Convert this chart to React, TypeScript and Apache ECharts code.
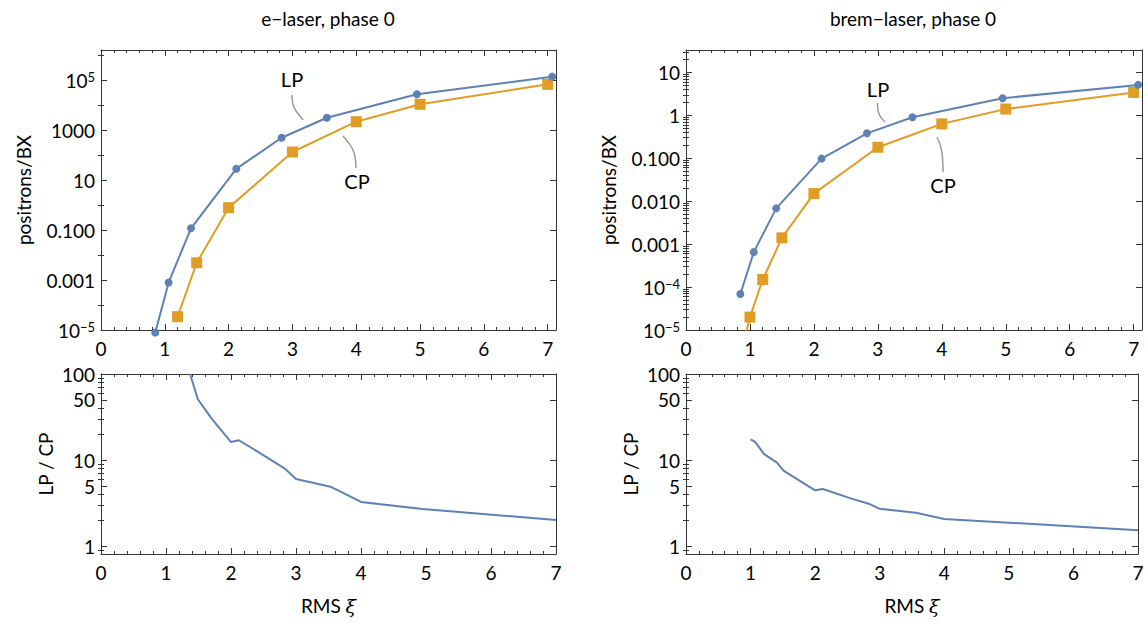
import React, { useEffect, useRef } from "react";
import * as echarts from "echarts";

// ---------- data ----------
const lpX = [0.85, 1.06, 1.41, 2.12, 2.83, 3.54, 4.95, 7.07];
const eLaserLP = [8e-6, 8e-4, 0.117, 28, 490, 3100, 27000, 136000];
const eLaserCPx = [1.2, 1.5, 2, 3, 4, 5, 7];
const eLaserCP = [3.4e-5, 0.0049, 0.78, 132, 2150, 10700, 67000];

const bremLP = [6.9e-5, 6.5e-4, 0.0068, 0.098, 0.38, 0.9, 2.5, 5.1];
const bremCPx = [0.9, 1.0, 1.2, 1.5, 2, 3, 4, 5, 7];
const bremCP = [5e-6, 2.0e-5, 1.5e-4, 1.4e-3, 0.015, 0.18, 0.63, 1.4, 3.4];

const eRatioX = [1.37, 1.49, 1.7, 2.0, 2.12, 2.41, 2.84, 3.0, 3.53, 4.0, 4.95, 7.0];
const eRatio = [100, 51, 30.6, 16.3, 17.1, 12.6, 7.9, 6.1, 4.96, 3.3, 2.73, 2.04];
const bremRatioX = [1.0, 1.07, 1.21, 1.41, 1.51, 2.0, 2.12, 2.55, 2.83, 3.0, 3.56, 4.0, 5.0, 7.0];
const bremRatio = [17.5, 16.4, 11.8, 9.4, 7.6, 4.5, 4.66, 3.63, 3.15, 2.75, 2.48, 2.09, 1.9, 1.55];

// tick values and labels
const eTickVals = [1e-5, 1e-3, 0.1, 10, 1000, 1e5];
const eTickText = ["10{s|−5}", "0.001", "0.100", "10", "1000", "10{s|5}"];
const eMinorVals = [1e-4, 1e-2, 1, 100, 1e4, 1e6];
const bremTickVals = [1e-5, 1e-4, 1e-3, 0.01, 0.1, 1, 10];
const bremTickText = ["10{s|−5}", "10{s|−4}", "0.001", "0.010", "0.100", "1", "10"];
const bremMinorVals = [
  2e-5, 3e-5, 4e-5, 5e-5, 6e-5, 7e-5, 8e-5, 9e-5,
  2e-4, 3e-4, 4e-4, 5e-4, 6e-4, 7e-4, 8e-4, 9e-4,
  2e-3, 3e-3, 4e-3, 5e-3, 6e-3, 7e-3, 8e-3, 9e-3,
  0.02, 0.03, 0.04, 0.05, 0.06, 0.07, 0.08, 0.09,
  0.2, 0.3, 0.4, 0.5, 0.6, 0.7, 0.8, 0.9,
  2, 3, 4, 5, 6, 7, 8, 9, 20, 30,
];
const ratioTickVals = [1, 5, 10, 50, 100];
const ratioTickText = ["1", "5", "10", "50", "100"];
const ratioMinorVals = [0.9, 2, 3, 4, 6, 7, 8, 9, 20, 30, 40, 60, 70, 80, 90];

const titles = ["e−laser, phase 0", "brem−laser, phase 0"];

// ---------- style ----------
const FONT = "Lato, 'DejaVu Sans', sans-serif";
const BLUE = "#5E81B5";
const ORANGE = "#E19C24";
const FRAME = "#333";
const FS = 19;

const lg = (v: number) => Math.log10(v);

const grids = [
  { left: 101, top: 50, width: 455, height: 280 },
  { left: 686, top: 50, width: 456, height: 280 },
  { left: 101, top: 374, width: 455, height: 180 },
  { left: 686, top: 374, width: 452, height: 180 },
];

function buildAxes(
  gi: number,
  xMax: number,
  yMin: number,
  yMax: number,
  major: number[],
  majorText: string[],
  minor: number[],
  yName: string,
  yNameGap: number,
  withXName: boolean
) {
  const majorL = major.map(lg);
  const minorL = minor.map(lg);
  const tick = { lineStyle: { color: FRAME, width: 1 } };
  const xBase = {
    type: "value",
    gridIndex: gi,
    min: 0,
    max: xMax,
    interval: 1,
    splitLine: { show: false },
    axisLine: { show: true, onZero: false, lineStyle: { color: FRAME, width: 1 } },
    axisTick: { show: true, inside: true, length: 6, ...tick },
    minorTick: { show: true, splitNumber: 5, length: 3, ...tick },
  };
  const xAxes = [
    {
      ...xBase,
      position: "bottom",
      axisLabel: {
        show: true,
        color: "#000",
        fontFamily: FONT,
        fontSize: FS,
        margin: 9,
        formatter: (v: number) => (Math.abs(v - Math.round(v)) < 1e-9 ? String(Math.round(v)) : ""),
      },
      ...(withXName
        ? {
            name: "RMS {i|ξ}",
            nameLocation: "middle",
            nameGap: 42,
            nameTextStyle: {
              color: "#000",
              fontFamily: FONT,
              fontSize: FS,
              verticalAlign: "top",
              rich: { i: { fontFamily: "'DejaVu Serif'", fontStyle: "italic", fontSize: FS, color: "#000" } },
            },
          }
        : {}),
    },
    { ...xBase, position: "top", axisLabel: { show: false } },
  ];
  const yBase = {
    type: "value",
    gridIndex: gi,
    min: yMin,
    max: yMax,
    splitLine: { show: false },
  };
  const yAxes = [
    {
      ...yBase,
      position: "left",
      axisLine: { show: true, onZero: false, lineStyle: { color: FRAME, width: 1 } },
      axisTick: { show: true, inside: true, length: 6, customValues: majorL, ...tick },
      axisLabel: {
        show: true,
        customValues: majorL,
        color: "#000",
        fontFamily: FONT,
        fontSize: FS,
        margin: 6,
        formatter: (v: number) => {
          const i = majorL.findIndex((t) => Math.abs(t - v) < 1e-6);
          return i >= 0 ? majorText[i] : "";
        },
        rich: { s: { fontSize: 13, verticalAlign: "top", fontFamily: FONT, color: "#000" } },
      },
      name: yName,
      nameLocation: "middle",
      nameGap: yNameGap,
      nameTextStyle: { color: "#000", fontFamily: FONT, fontSize: FS },
    },
    {
      ...yBase,
      position: "left",
      axisLine: { show: false },
      axisTick: { show: true, inside: true, length: 3, customValues: minorL, ...tick },
      axisLabel: { show: false },
    },
    {
      ...yBase,
      position: "right",
      axisLine: { show: true, onZero: false, lineStyle: { color: FRAME, width: 1 } },
      axisTick: { show: true, inside: true, length: 6, customValues: majorL, ...tick },
      axisLabel: { show: false },
    },
    {
      ...yBase,
      position: "right",
      axisLine: { show: false },
      axisTick: { show: true, inside: true, length: 3, customValues: minorL, ...tick },
      axisLabel: { show: false },
    },
  ];
  return { xAxes, yAxes };
}

function lineSeries(p: number, xs: number[], ys: number[], color: string, symbol: string, size: number, clip = true, showSymbol = true) {
  return {
    type: "line",
    xAxisIndex: 2 * p,
    yAxisIndex: 4 * p,
    data: xs.map((x, i) => [x, lg(ys[i])]),
    symbol,
    symbolSize: size,
    showSymbol,
    clip,
    color,
    itemStyle: { color },
    lineStyle: { color, width: 2 },
    emphasis: { disabled: true },
    z: color === BLUE ? 3 : 2,
  };
}

export default function App() {
  const ref = useRef<HTMLDivElement>(null);
  useEffect(() => {
    if (!ref.current) return;
    const chart = echarts.init(ref.current, undefined, { renderer: "svg" });

    const p0 = buildAxes(0, 7.13, -5, 6.2, eTickVals, eTickText, eMinorVals, "positrons/BX", 68, false);
    const p1 = buildAxes(1, 7.13, -5, 1.52, bremTickVals, bremTickText, bremMinorVals, "positrons/BX", 68, false);
    const p2 = buildAxes(2, 7, lg(0.824), 2, ratioTickVals, ratioTickText, ratioMinorVals, "LP / CP", 46, true);
    const p3 = buildAxes(3, 7, lg(0.824), 2, ratioTickVals, ratioTickText, ratioMinorVals, "LP / CP", 46, true);

    const leader = (x1: number, y1: number, c1x: number, c1y: number, c2x: number, c2y: number, x2: number, y2: number) => ({
      type: "bezierCurve",
      shape: { x1, y1, cpx1: c1x, cpy1: c1y, cpx2: c2x, cpy2: c2y, x2, y2 },
      style: { stroke: "#9a9a9a", lineWidth: 1.5, fill: "none" },
      silent: true,
    });
    const label = (text: string, x: number, y: number) => ({
      type: "text",
      x,
      y,
      style: { text, fontFamily: FONT, fontSize: 20, fill: "#000", align: "center", verticalAlign: "middle" },
      silent: true,
    });

    chart.setOption({
      animation: false,
      backgroundColor: "#fff",
      grid: grids.map((g) => ({ ...g, containLabel: false, outerBoundsMode: "none" })),
      xAxis: [...p0.xAxes, ...p1.xAxes, ...p2.xAxes, ...p3.xAxes],
      yAxis: [...p0.yAxes, ...p1.yAxes, ...p2.yAxes, ...p3.yAxes],
      series: [
        lineSeries(0, lpX, eLaserLP, BLUE, "circle", 8, false),
        lineSeries(0, eLaserCPx, eLaserCP, ORANGE, "rect", 11),
        lineSeries(1, lpX, bremLP, BLUE, "circle", 8),
        lineSeries(1, bremCPx, bremCP, ORANGE, "rect", 11),
        lineSeries(2, eRatioX, eRatio, BLUE, "none", 0, true, false),
        lineSeries(3, bremRatioX, bremRatio, BLUE, "none", 0, true, false),
      ],
      graphic: [
        {
          type: "text",
          x: 328,
          y: 18,
          style: { text: titles[0], fontFamily: FONT, fontSize: FS, fill: "#000", align: "center", verticalAlign: "middle" },
        },
        {
          type: "text",
          x: 913,
          y: 18,
          style: { text: titles[1], fontFamily: FONT, fontSize: FS, fill: "#000", align: "center", verticalAlign: "middle" },
        },
        label("LP", 292, 79),
        leader(292, 95, 292, 108, 296, 111, 303, 120),
        label("CP", 357, 181),
        leader(343, 136, 352, 146, 356, 152, 356, 168),
        label("LP", 878, 89),
        leader(877.5, 103, 877.5, 114, 880, 117, 885, 122),
        label("CP", 943, 185),
        leader(937, 137, 941, 145, 943, 152, 943, 172),
      ],
    });
    return () => chart.dispose();
  }, []);
  return (
    <div
      ref={ref}
      style={{ position: "absolute", left: 0, top: 0, width: 1145, height: 623, background: "#fff" }}
    />
  );
}
